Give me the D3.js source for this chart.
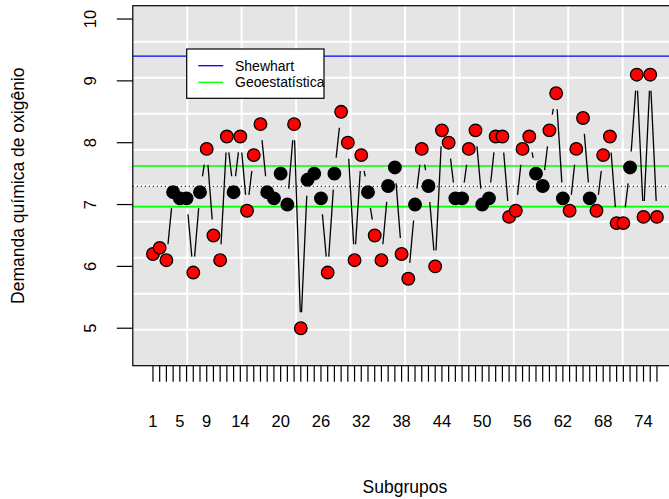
<!DOCTYPE html>
<html>
<head>
<meta charset="utf-8">
<script src="https://cdn.jsdelivr.net/npm/d3@7"></script>
<style>
  html, body { margin: 0; padding: 0; background: #ffffff; }
  svg { display: block; }
  text { font-family: "Liberation Sans", Arial, Helvetica, sans-serif; fill: #000; }
</style>
</head>
<body>
<svg id="chart" width="669" height="499"></svg>
<script>
// ---- data ----
const demanda = [6.2,6.3,6.1,7.2,7.1,7.1,5.9,7.2,7.9,6.5,
                 6.1,8.1,7.2,8.1,6.9,7.8,8.3,7.2,7.1,7.5,
                 7.0,8.3,5.0,7.4,7.5,7.1,5.9,7.5,8.5,8.0,
                 6.1,7.8,7.2,6.5,6.1,7.3,7.6,6.2,5.8,7.0,
                 7.9,7.3,6.0,8.2,8.0,7.1,7.1,7.9,8.2,7.0,
                 7.1,8.1,8.1,6.8,6.9,7.9,8.1,7.5,7.3,8.2,
                 8.8,7.1,6.9,7.9,8.4,7.1,6.9,7.8,8.1,6.7,
                 6.7,7.6,9.1,6.8,9.1,6.8];
const subgrupos = demanda.map((d, i) => i + 1);
const xTickLabels = [1,5,9,14,20,26,32,38,44,50,56,62,68,74];
const yTicks = [5,6,7,8,9,10];
const centro = 7.295;
const shewhartLimits = [9.40];
const geoLimits = [6.966, 7.624];
const legendLabels = ["Shewhart", "Geoestatística"];
const legendColors = ["#0000FF", "#00FF00"];

(function () {
// ---- layout ----
const svg = d3.select("#chart");
const pL = 132.8, pR = 677.1, pT = 5.7, pB = 365.7;
const x = d3.scaleLinear().domain([-2, 79]).range([pL, pR]);
const y = d3.scaleLinear().domain([4.394, 10.2156]).range([pB, pT]);

// panel background
svg.append("rect").attr("x", pL).attr("y", pT)
  .attr("width", pR - pL).attr("height", pB - pT)
  .attr("fill", "#E5E5E5");

// grid (10 equal divisions of the plotting region)
const gx = d3.range(1, 10).map(k => x.domain()[0] + k * (x.domain()[1] - x.domain()[0]) / 10);
const gy = d3.range(1, 10).map(k => y.domain()[0] + k * (y.domain()[1] - y.domain()[0]) / 10);
const grid = svg.append("g").attr("stroke", "#FFFFFF").attr("stroke-width", 2);
grid.selectAll("line.v").data(gx).join("line").attr("class", "v")
  .attr("x1", d => x(d)).attr("x2", d => x(d)).attr("y1", pT).attr("y2", pB);
grid.selectAll("line.h").data(gy).join("line").attr("class", "h")
  .attr("x1", pL).attr("x2", pR).attr("y1", d => y(d)).attr("y2", d => y(d));

// reference lines
svg.append("line").attr("x1", pL).attr("x2", pR)
  .attr("y1", y(centro)).attr("y2", y(centro))
  .attr("stroke", "#000").attr("stroke-width", 1.2).attr("stroke-dasharray", "1,3");
svg.selectAll("line.shew").data(shewhartLimits).join("line").attr("class", "shew")
  .attr("x1", pL).attr("x2", pR).attr("y1", d => y(d)).attr("y2", d => y(d))
  .attr("stroke", "#0000FF").attr("stroke-width", 1.3);
svg.selectAll("line.geo").data(geoLimits).join("line").attr("class", "geo")
  .attr("x1", pL).attr("x2", pR).attr("y1", d => y(d)).attr("y2", d => y(d))
  .attr("stroke", "#00FF00").attr("stroke-width", 1.6);

// type "b" line segments with gaps around points
const gap = 16;
const segs = [];
for (let i = 0; i < demanda.length - 1; i++) {
  const x0 = x(subgrupos[i]), y0 = y(demanda[i]);
  const x1 = x(subgrupos[i + 1]), y1 = y(demanda[i + 1]);
  const dx = x1 - x0, dy = y1 - y0, d = Math.hypot(dx, dy);
  if (d > 2 * gap) {
    const ux = dx / d, uy = dy / d;
    segs.push([x0 + ux * gap, y0 + uy * gap, x1 - ux * gap, y1 - uy * gap]);
  }
}
svg.append("g").selectAll("line").data(segs).join("line")
  .attr("x1", d => d[0]).attr("y1", d => d[1]).attr("x2", d => d[2]).attr("y2", d => d[3])
  .attr("stroke", "#000").attr("stroke-width", 1.3);

// points
svg.append("g").selectAll("circle").data(demanda).join("circle")
  .attr("cx", (d, i) => x(subgrupos[i])).attr("cy", d => y(d)).attr("r", 6.3)
  .attr("fill", d => (d > geoLimits[1] || d < geoLimits[0]) ? "#FF0000" : "#000000")
  .attr("stroke", "#000").attr("stroke-width", 1.3);

// box
svg.append("rect").attr("x", pL).attr("y", pT)
  .attr("width", pR - pL).attr("height", pB - pT)
  .attr("fill", "none").attr("stroke", "#000").attr("stroke-width", 1.2);

// y axis
const yAxis = svg.append("g");
yAxis.selectAll("line").data(yTicks).join("line")
  .attr("x1", pL - 16).attr("x2", pL).attr("y1", d => y(d)).attr("y2", d => y(d))
  .attr("stroke", "#000").attr("stroke-width", 1.2);
yAxis.selectAll("text").data(yTicks).join("text")
  .attr("transform", d => `translate(${pL - 43},${y(d)}) rotate(-90)`)
  .attr("text-anchor", "middle").attr("dominant-baseline", "central")
  .style("font-size", "16.5px").text(d => d);

// x axis
const xAxis = svg.append("g");
xAxis.selectAll("line").data(subgrupos).join("line")
  .attr("x1", d => x(d)).attr("x2", d => x(d)).attr("y1", pB).attr("y2", pB + 16)
  .attr("stroke", "#000").attr("stroke-width", 1.2);
xAxis.selectAll("text").data(xTickLabels).join("text")
  .attr("x", d => x(d)).attr("y", 421)
  .attr("text-anchor", "middle").attr("dominant-baseline", "central")
  .style("font-size", "16.5px").text(d => d);

// axis titles
svg.append("text").attr("x", (pL + pR) / 2).attr("y", 487)
  .attr("text-anchor", "middle").attr("dominant-baseline", "central")
  .style("font-size", "17.5px").text("Subgrupos");
svg.append("text").attr("transform", `translate(18,${(pT + pB) / 2}) rotate(-90)`)
  .attr("text-anchor", "middle").attr("dominant-baseline", "central")
  .style("font-size", "17.5px").text("Demanda química de oxigênio");

// legend
const lg = svg.append("g");
lg.append("rect").attr("x", 186.7).attr("y", 49).attr("width", 137.3).attr("height", 49.3)
  .attr("fill", "#fff").attr("stroke", "#000").attr("stroke-width", 1.2);
const rows = lg.selectAll("g.row").data(legendLabels).join("g").attr("class", "row")
  .attr("transform", (d, i) => `translate(0,${65.7 + i * 16.6})`);
rows.append("line").attr("x1", 198.3).attr("x2", 223.3).attr("y1", 0).attr("y2", 0)
  .attr("stroke", (d, i) => legendColors[i]).attr("stroke-width", 1.3);
rows.append("text").attr("x", 235).attr("y", 0).attr("dominant-baseline", "central")
  .style("font-size", "14px").text(d => d);
})();
</script>
</body>
</html>
